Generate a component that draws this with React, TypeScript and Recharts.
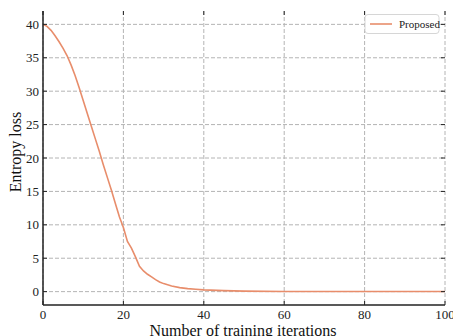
import React from 'react';
import {
  LineChart, Line, XAxis, YAxis, CartesianGrid
} from 'recharts';

// training iterations and the entropy loss
const iterations = [
  0, 1, 2, 3, 4, 5, 6, 7, 8, 9, 10, 11, 12, 13, 14, 15, 16, 17, 18, 19, 20,
  21, 22, 23, 24, 25, 26, 27, 28, 29, 30, 32, 34, 36, 38, 40, 45, 50, 60, 70, 80, 90, 100,
];
const lossProposed = [
  40, 39.7, 39.1, 38.3, 37.4, 36.4, 35.3, 33.9, 32.3, 30.5, 28.6, 26.7, 24.8, 22.9, 21.0, 19.0,
  17.1, 15.2, 13.2, 11.2, 9.6, 7.5, 6.5, 5.2, 3.8, 3.1, 2.6, 2.2, 1.8, 1.45, 1.2, 0.85, 0.6,
  0.45, 0.35, 0.27, 0.15, 0.08, 0.03, 0.02, 0.01, 0.01, 0.01,
];
const xTicks = [0, 20, 40, 60, 80, 100];
const yTicks = [0, 5, 10, 15, 20, 25, 30, 35, 40];

const data = iterations.map((it, i) => ({ it, loss: lossProposed[i] }));

const FONT = '"Liberation Serif", "Times New Roman", serif';
const PLOT_TOP = 11;
const PLOT_BOTTOM = 305;
const PLOT_LEFT = 43;
const PLOT_RIGHT = 445;
const LINE_COLOR = '#e88d6b';

const XTick = (props: any) => {
  const { x, payload } = props;
  return (
    <g>
      <line x1={x} x2={x} y1={PLOT_BOTTOM} y2={PLOT_BOTTOM - 4} stroke="#222" strokeWidth={1} />
      <line x1={x} x2={x} y1={PLOT_TOP} y2={PLOT_TOP + 4} stroke="#222" strokeWidth={1} />
      <text x={x} y={PLOT_BOTTOM + 14} textAnchor="middle" fontSize={13} fontFamily={FONT} fill="#222">
        {payload.value}
      </text>
    </g>
  );
};

const YTick = (props: any) => {
  const { y, payload } = props;
  return (
    <g>
      <line x1={PLOT_LEFT} x2={PLOT_LEFT + 4} y1={y} y2={y} stroke="#222" strokeWidth={1} />
      <line x1={PLOT_RIGHT} x2={PLOT_RIGHT - 4} y1={y} y2={y} stroke="#222" strokeWidth={1} />
      <text x={PLOT_LEFT - 4} y={y + 4.5} textAnchor="end" fontSize={13} fontFamily={FONT} fill="#222">
        {payload.value}
      </text>
    </g>
  );
};

const App: React.FC = () => {
  return (
    <div style={{ position: 'absolute', left: 0, top: 0, width: 453, height: 336, background: '#fff', overflow: 'hidden' }}>
      <LineChart
        width={453}
        height={336}
        data={data}
        margin={{ top: PLOT_TOP, right: 453 - PLOT_RIGHT, left: 0, bottom: 0 }}
      >
        <CartesianGrid stroke="#b4b4b4" strokeDasharray="4 2" verticalValues={xTicks} horizontalValues={yTicks} />
        <XAxis
          dataKey="it"
          type="number"
          domain={[0, 100]}
          ticks={xTicks}
          tick={<XTick />}
          tickLine={false}
          axisLine={{ stroke: '#222', strokeWidth: 1.5 }}
          height={336 - PLOT_BOTTOM}
          interval={0}
        />
        <XAxis xAxisId="top" orientation="top" dataKey="it" type="number" domain={[0, 100]} height={0} tick={false} tickLine={false} axisLine={{ stroke: '#222', strokeWidth: 1.5 }} />
        <YAxis
          type="number"
          domain={[-2, 42]}
          ticks={yTicks}
          tick={<YTick />}
          tickLine={false}
          axisLine={{ stroke: '#222', strokeWidth: 1.5 }}
          width={PLOT_LEFT}
          interval={0}
        />
        <YAxis yAxisId="right" orientation="right" domain={[-2, 42]} width={0} tick={false} tickLine={false} axisLine={{ stroke: '#222', strokeWidth: 1.5 }} />
        <Line
          type="linear"
          dataKey="loss"
          stroke={LINE_COLOR}
          strokeWidth={1.6}
          dot={false}
          isAnimationActive={false}
        />
        <g>
          <rect x={365} y={14.5} width={74} height={19} rx={3} fill="#fff" stroke="#d6d6d6" strokeWidth={1} />
          <line x1={370} x2={392} y1={24} y2={24} stroke={LINE_COLOR} strokeWidth={1.6} />
          <text x={399} y={28} fontSize={11} fontFamily={FONT} fill="#222">Proposed</text>
        </g>
        <text x={243} y={336} textAnchor="middle" fontSize={16} fontFamily={FONT} fill="#111">
          Number of training iterations
        </text>
        <text x={21} y={152} textAnchor="middle" fontSize={16} fontFamily={FONT} fill="#111" transform="rotate(-90 21 152)">
          Entropy loss
        </text>
      </LineChart>
    </div>
  );
};

export default App;
